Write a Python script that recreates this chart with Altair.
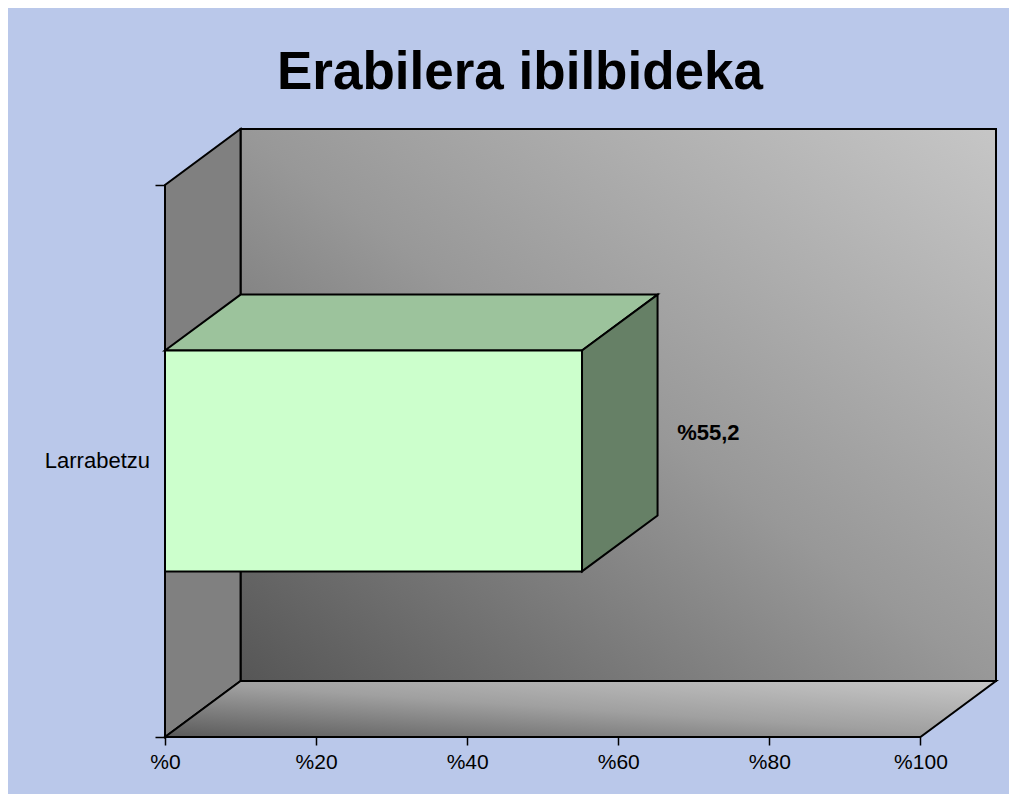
import altair as alt
import pandas as pd

# ---- data ----
categories = ["Larrabetzu"]
values = [55.2]
value_labels = ["%55,2"]
x_ticks = [0, 20, 40, 60, 80, 100]
title_text = "Erabilera ibilbideka"

# ---- 3D box geometry (style, in axis units) ----
XMAX = 100      # x axis end (percent)
DX = 10         # depth offset along x
Y_BAND = 90.8   # height of category band
DY = 9.2        # depth offset along y
BAR_FRAC = 0.4  # bar thickness as a share of the band

FONT = "Liberation Sans"
BG = "#BAC8EA"

xs = alt.Scale(domain=[0, XMAX + DX], nice=False, zero=False)
ys = alt.Scale(domain=[0, Y_BAND + DY], nice=False, zero=False)

x_axis = alt.Axis(values=x_ticks, labelExpr="'%' + datum.value", domain=False, grid=False,
                  tickSize=8, tickColor="black", tickWidth=1.5, labelFont=FONT,
                  labelFontSize=21, labelColor="black", labelPadding=6, labelFlush=False,
                  title=None)
y_axis = alt.Axis(values=[0, Y_BAND], labels=False, domain=False, grid=False,
                  tickSize=10, tickColor="black", tickWidth=1.5, title=None)


def X(f, **kw):
    return alt.X(f, scale=xs, axis=x_axis, **kw)


def Y(f, **kw):
    return alt.Y(f, scale=ys, axis=y_axis, **kw)


def grad(stops):
    return alt.Gradient(gradient="linear",
                        stops=[alt.GradientStop(color=c, offset=o) for o, c in stops],
                        x1=0, y1=1, x2=1, y2=0)


EDGE = dict(stroke="black", strokeWidth=2)

# walls and floor
back_df = pd.DataFrame({"x": [DX], "x2": [XMAX + DX], "y": [DY], "y2": [Y_BAND + DY]})
left_df = pd.DataFrame({"x": [0, DX], "y": [0, DY], "y2": [Y_BAND, Y_BAND + DY]})
floor_df = pd.DataFrame({"y": [0, DY], "x": [0, DX], "x2": [XMAX, XMAX + DX]})

back = alt.Chart(back_df).mark_rect(
    fill=grad([(0, "#565656"), (0.5, "#989898"), (1, "#c6c6c6")]), **EDGE
).encode(x=X("x:Q"), x2="x2:Q", y=Y("y:Q"), y2="y2:Q")

left = alt.Chart(left_df).mark_area(orient="vertical", fill="#808080", **EDGE).encode(
    x=X("x:Q"), y=Y("y:Q", stack=None), y2="y2:Q")

floor = alt.Chart(floor_df).mark_area(
    orient="horizontal", fill=grad([(0, "#5a5a5a"), (0.5, "#a0a0a0"), (1, "#c8c8c8")]), **EDGE
).encode(y=Y("y:Q"), x=X("x:Q", stack=None), x2="x2:Q")

# bars
n = len(categories)
bh = Y_BAND / n
front_rows, top_rows, side_rows, lab_rows, cat_rows = [], [], [], [], []
for i, (c, v, t) in enumerate(zip(categories, values, value_labels)):
    mid = (i + 0.5) * bh
    lo, hi = mid - BAR_FRAC * bh / 2, mid + BAR_FRAC * bh / 2
    front_rows.append({"cat": c, "x": 0, "x2": v, "y": lo, "y2": hi})
    top_rows += [{"cat": c, "y": hi, "x": 0, "x2": v},
                 {"cat": c, "y": hi + DY, "x": DX, "x2": v + DX}]
    side_rows += [{"cat": c, "x": v, "y": lo, "y2": hi},
                  {"cat": c, "x": v + DX, "y": lo + DY, "y2": hi + DY}]
    lab_rows.append({"t": t, "x": v + DX + 2.6, "y": mid + DY / 2})
    cat_rows.append({"cat": c, "y": mid})

bar_top = alt.Chart(pd.DataFrame(top_rows)).mark_area(
    orient="horizontal", fill="#9CC39C", **EDGE
).encode(y=Y("y:Q"), x=X("x:Q", stack=None), x2="x2:Q", detail="cat:N")

bar_side = alt.Chart(pd.DataFrame(side_rows)).mark_area(
    orient="vertical", fill="#668066", **EDGE
).encode(x=X("x:Q"), y=Y("y:Q", stack=None), y2="y2:Q", detail="cat:N")

bar_front = alt.Chart(pd.DataFrame(front_rows)).mark_rect(fill="#CCFFCC", **EDGE).encode(
    x=X("x:Q"), x2="x2:Q", y=Y("y:Q"), y2="y2:Q")

val_text = alt.Chart(pd.DataFrame(lab_rows)).mark_text(
    font=FONT, fontSize=22, fontWeight="bold", align="left", baseline="middle", color="black"
).encode(x=X("x:Q"), y=Y("y:Q"), text="t:N")

cat_text = alt.Chart(pd.DataFrame(cat_rows)).mark_text(
    font=FONT, fontSize=22, align="right", baseline="middle", color="black", dx=-15
).encode(x=alt.value(0), y=Y("y:Q"), text="cat:N")

title = alt.Chart(pd.DataFrame({"t": [title_text]})).mark_text(
    font=FONT, fontSize=53, fontWeight="bold", align="center", baseline="alphabetic", color="black"
).encode(x=alt.value(355), y=alt.value(-40), text="t:N")

chart = alt.layer(back, left, floor, bar_top, bar_side, bar_front, val_text, cat_text, title).properties(
    width=831, height=608,
    padding={"left": 157, "top": 121, "right": 13, "bottom": 57},
    autosize=alt.AutoSizeParams(type="none"),
    background=BG,
).configure_view(strokeWidth=0)

chart.save("out.html", embed_options={"renderer": "svg", "actions": False})
